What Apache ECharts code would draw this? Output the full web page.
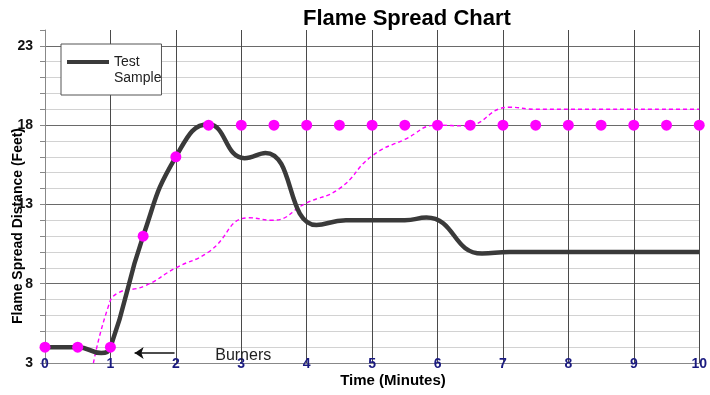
<!DOCTYPE html>
<html><head><meta charset="utf-8">
<script src="https://cdn.jsdelivr.net/npm/echarts@6/dist/echarts.min.js"></script>
<style>html,body{margin:0;padding:0;background:#fff}#c{width:710px;height:395px}</style>
</head><body><div id="c"></div>
<script>
// Test Sample (solid black curve): read at turning points of the curve
const sampleTime = [0, 0.5, 0.86, 1, 1.5, 2, 2.5, 3.05, 3.37, 4.15, 4.6, 5.5, 5.83, 6.68, 7.1, 10];
const sampleDist = [4, 4, 3.63, 4, 11, 16, 18.05, 15.92, 16.25, 11.7, 12, 12, 12.17, 9.9, 10, 10];
// Reference dashed curve (magenta)
const refTime = [0.74, 0.96, 1.1, 1.52, 2, 2.5, 3.12, 3.47, 4, 4.5, 5, 5.5, 6, 6.42, 7.1, 7.5, 10];
const refDist = [3, 6.46, 7.38, 7.85, 9, 10, 12.16, 12.0, 13.1, 14.0, 16.06, 17.1, 18, 17.95, 19.13, 19.0, 19];
// Magenta markers
const markerTime = [0, 0.5, 1, 1.5, 2, 2.5, 3, 3.5, 4, 4.5, 5, 5.5, 6, 6.5, 7, 7.5, 8, 8.5, 9, 9.5, 10];
const markerDist = [4, 4, 4, 11, 16, 18, 18, 18, 18, 18, 18, 18, 18, 18, 18, 18, 18, 18, 18, 18, 18];
// Tick labels
const yLabelValues = [3, 8, 13, 18, 23];
const xLabelValues = [0, 1, 2, 3, 4, 5, 6, 7, 8, 9, 10];
// Annotation
const burnersArrowFrom = [1.98, 3.63];
const burnersArrowTo = [1.37, 3.63];
const burnersLabelAt = [3.03, 3.44];

const FONT = 'Liberation Sans, Arial, sans-serif';
const zip = (a, b) => a.map((v, i) => [v, b[i]]);

const chart = echarts.init(document.getElementById('c'), null, {renderer: 'canvas'});
chart.setOption({
  animation: false,
  backgroundColor: '#ffffff',
  title: {
    text: 'Flame Spread Chart', left: 303, top: 8, padding: 0,
    textStyle: {fontFamily: FONT, fontSize: 22, fontWeight: 'bold', color: '#000'}
  },
  legend: {
    data: ['Test Sample'],
    left: 61, top: 44,
    orient: 'vertical',
    padding: [10, 0, 9, 6],
    backgroundColor: '#fff',
    borderColor: '#555', borderWidth: 1, borderRadius: 0,
    itemWidth: 42, itemHeight: 32,
    icon: 'path://M0,0L0.01,0L0,0.01Z M0,6L42,6L42,10L0,10Z M0,32L0.01,32L0,31.99Z',
    itemStyle: {color: '#3a3a3a', borderWidth: 0},
    formatter: () => 'Test\nSample',
    textStyle: {fontFamily: FONT, fontSize: 14, lineHeight: 16, color: '#222'},
    selectedMode: false
  },
  grid: {left: 45, right: 8, top: 30, bottom: 32, containLabel: false},
  xAxis: {
    type: 'value', min: 0, max: 10, interval: 1,
    axisLine: {show: true, lineStyle: {color: '#888', width: 1}},
    axisTick: {show: false},
    axisLabel: {
      margin: -6, fontFamily: FONT, fontSize: 14, fontWeight: 'bold', color: '#1a1a80',
      formatter: v => xLabelValues.includes(v) ? String(v) : ''
    },
    splitLine: {show: true, lineStyle: {color: '#4a4a4a', width: 1}}
  },
  yAxis: {
    type: 'value', min: 3, max: 24, interval: 1,
    axisLine: {show: true, lineStyle: {color: '#888', width: 1}},
    axisTick: {show: true, length: 5, inside: false, lineStyle: {color: '#888'}},
    axisLabel: {
      margin: 12, fontFamily: FONT, fontSize: 14, fontWeight: 'bold', color: '#111',
      formatter: v => yLabelValues.includes(v) ? String(v) : ''
    },
    splitLine: {
      show: true, showMaxLine: false,
      lineStyle: {color: ['#6a6a6a', '#d2d2d2', '#d2d2d2', '#d2d2d2', '#d2d2d2'], width: 1}
    }
  },
  graphic: [
    {type: 'text', x: 18, y: 226, rotation: Math.PI / 2,
     style: {text: 'Flame Spread Distance (Feet)', fontFamily: FONT, fontSize: 14, fontWeight: 'bold',
             fill: '#000', align: 'center', verticalAlign: 'middle'}},
    {type: 'text', x: 393, y: 381,
     style: {text: 'Time (Minutes)', fontFamily: FONT, fontSize: 15, fontWeight: 'bold',
             fill: '#000', align: 'center', verticalAlign: 'middle'}}
  ],
  series: [
    {
      name: 'Reference', type: 'line', data: zip(refTime, refDist),
      smooth: 0.5, showSymbol: false, clip: true, z: 2,
      lineStyle: {color: '#ff00ff', width: 1.4, type: [4, 3]}
    },
    {
      name: 'Test Sample', type: 'line', data: zip(sampleTime, sampleDist),
      smooth: 0.5, showSymbol: false, z: 3,
      lineStyle: {color: '#3a3a3a', width: 4.5},
      itemStyle: {color: '#3a3a3a'},
      markLine: {
        silent: true, animation: false,
        symbol: ['none', 'arrow'], symbolSize: [9, 9],
        label: {show: false},
        lineStyle: {color: '#111', width: 1.5, type: 'solid'},
        data: [[{coord: burnersArrowFrom}, {coord: burnersArrowTo}]]
      },
      markPoint: {
        silent: true, animation: false,
        symbol: 'circle', symbolSize: 0,
        label: {show: true, position: 'inside', formatter: 'Burners',
                fontFamily: FONT, fontSize: 16, color: '#222'},
        data: [{coord: burnersLabelAt}]
      }
    },
    {
      name: 'Markers', type: 'scatter', data: zip(markerTime, markerDist),
      symbol: 'circle', symbolSize: 11, z: 4,
      itemStyle: {color: '#ff00ff', opacity: 1}
    }
  ]
});
</script></body></html>
